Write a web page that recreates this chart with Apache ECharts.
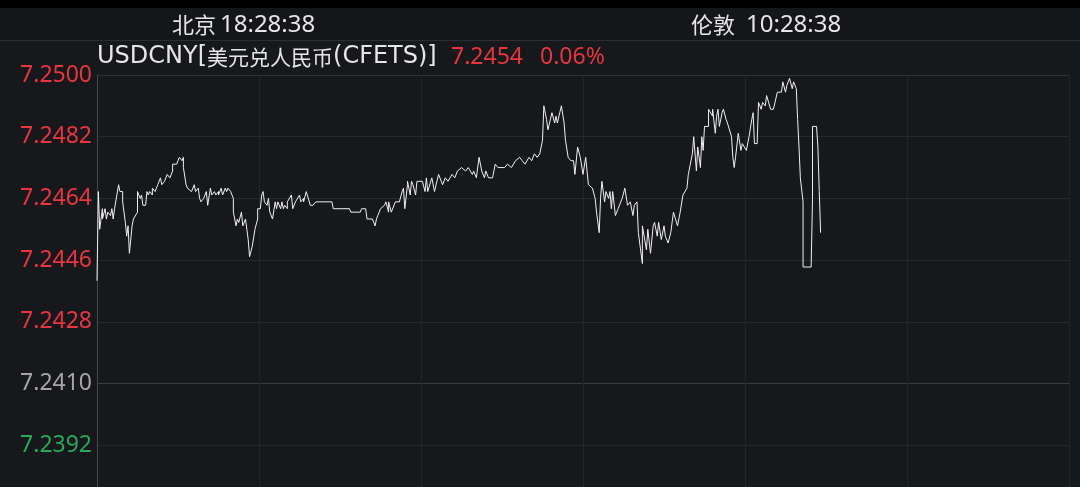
<!DOCTYPE html>
<html>
<head>
<meta charset="utf-8">
<script src="https://cdn.jsdelivr.net/npm/echarts@6/dist/echarts.min.js"></script>
<style>
html,body{margin:0;padding:0;background:#16181c;}
#c{width:1080px;height:487px;}
</style>
</head>
<body>
<div id="c"></div>
<script>
// minutes after 09:30 for each tick of the intraday line
const minutes = [
  0,1,2,4,4,6,7,8,10,11,
  12,13,16,17,19,19,21,22,23,24,
  26,27,30,30,32,33,34,36,37,38,
  39,41,41,43,44,45,47,48,49,50,
  52,53,54,56,56,59,60,61,63,64,
  64,66,67,68,70,71,72,73,75,76,
  77,79,79,81,82,84,85,87,88,90,
  90,92,93,95,96,97,99,101,101,103,
  104,105,107,108,110,111,112,113,115,116,
  117,119,119,121,122,123,
  124,126,127,128,130,132,133,134,136,137,
  138,139,141,141,144,145,147,148,150,151,
  153,153,155,156,158,160,162,174,175,187,
  188,195,196,199,200,204,206,207,208,210,
  211,213,214,216,216,218,219,221,222,224,
  226,227,228,230,230,232,233,234,236,237,
  241,243,244,245,
  248,250,253,256,258,260,263,265,267,270,
  273,275,278,279,281,283,285,287,288,290,
  293,295,297,300,302,304,307,310,311,313,
  315,317,318,320,322,324,326,328,330,331,
  333,334,337,339,340,341,344,346,347,349,
  351,353,354,356,358,360,362,364,
  367,369,370,372,373,374,376,377,379,380,
  381,382,384,386,389,391,393,395,397,398,
  400,401,404,404,407,408,410,412,413,415,
  416,418,420,421,423,425,427,430,432,434,
  437,438,441,442,444,445,447,448,449,450,
  453,453,456,456,458,459,460,461,463,464,
  466,467,470,471,472,473,475,477,478,481,
  483,485,486,487,489,490,492,493,495,496,
  499,501,504,507,508,510,511,513,515,516,
  518,519,520,521,523,523,529,530,530,533,
  534,535,536
];
const prices = [
  7.2440,7.2466,7.2455,7.2461,7.2458,7.2461,7.2458,7.2460,7.2459,7.2461,
  7.2458,7.2461,7.2468,7.2466,7.2466,7.2463,7.2457,7.2453,7.2456,7.2448,
  7.2456,7.2458,7.2460,7.2466,7.2464,7.2465,7.2462,7.2462,7.2466,7.2465,
  7.2466,7.2465,7.2467,7.2466,7.2467,7.2468,7.2470,7.2468,7.2468,7.2469,
  7.2471,7.2471,7.2470,7.2472,7.2474,7.2474,7.2475,7.2476,7.2475,7.2476,
  7.2473,7.2468,7.2467,7.2467,7.2466,7.2466,7.2468,7.2466,7.2467,7.2464,
  7.2463,7.2464,7.2464,7.2466,7.2462,7.2467,7.2465,7.2466,7.2465,7.2466,
  7.2465,7.2467,7.2465,7.2467,7.2466,7.2467,7.2466,7.2464,7.2460,7.2456,
  7.2458,7.2457,7.2460,7.2456,7.2458,7.2455,7.2452,7.2447,7.2450,7.2450,
  7.2455,7.2458,7.2461,7.2461,7.2465,7.2466,
  7.2463,7.2462,7.2464,7.2460,7.2458,7.2463,7.2461,7.2463,7.2461,7.2463,
  7.2461,7.2462,7.2461,7.2463,7.2465,7.2461,7.2463,7.2463,7.2465,7.2463,
  7.2464,7.2463,7.2466,7.2466,7.2462,7.2462,7.2463,7.2463,7.2461,7.2461,
  7.2460,7.2460,7.2461,7.2461,7.2458,7.2458,7.2456,7.2458,7.2459,7.2461,
  7.2461,7.2462,7.2463,7.2460,7.2463,7.2460,7.2460,7.2463,7.2463,7.2463,
  7.2466,7.2467,7.2461,7.2468,7.2469,7.2465,7.2469,7.2468,7.2465,7.2469,
  7.2469,7.2466,7.2470,7.2466,
  7.2470,7.2466,7.2471,7.2468,7.2470,7.2469,7.2471,7.2470,7.2472,7.2473,
  7.2472,7.2473,7.2471,7.2472,7.2470,7.2476,7.2472,7.2470,7.2472,7.2470,
  7.2470,7.2474,7.2473,7.2473,7.2473,7.2474,7.2473,7.2475,7.2475,7.2476,
  7.2475,7.2474,7.2474,7.2476,7.2475,7.2477,7.2476,7.2477,7.2481,7.2491,
  7.2487,7.2484,7.2489,7.2486,7.2488,7.2486,7.2491,7.2486,7.2481,7.2476,
  7.2475,7.2475,7.2471,7.2479,7.2476,7.2471,7.2476,7.2468,
  7.2467,7.2464,7.2460,7.2454,7.2464,7.2469,7.2463,7.2466,7.2464,7.2466,
  7.2461,7.2466,7.2459,7.2461,7.2464,7.2467,7.2462,7.2463,7.2459,7.2462,
  7.2463,7.2454,7.2445,7.2456,7.2449,7.2455,7.2448,7.2456,7.2457,7.2453,
  7.2457,7.2452,7.2456,7.2453,7.2451,7.2454,7.2460,7.2456,7.2460,7.2465,
  7.2467,7.2471,7.2477,7.2482,7.2472,7.2479,7.2473,7.2482,7.2478,7.2485,
  7.2485,7.2490,7.2488,7.2490,7.2483,7.2488,7.2490,7.2485,7.2489,7.2490,
  7.2487,7.2486,7.2482,7.2476,7.2473,7.2476,7.2483,7.2478,7.2480,7.2478,
  7.2482,7.2487,7.2489,7.2480,7.2480,7.2492,7.2490,7.2492,7.2491,7.2494,
  7.2490,7.2490,7.2495,7.2495,7.2498,7.2495,7.2497,7.2499,7.2496,7.2498,
  7.2496,7.2487,7.2479,7.2470,7.2463,7.2444,7.2444,7.2464,7.2485,7.2485,
  7.2479,7.2466,7.2454
];
const yTicks = [7.2374, 7.2392, 7.2410, 7.2428, 7.2446, 7.2464, 7.2482, 7.2500];
const prevClose = 7.2410;
const lastPrice = '7.2454';
const changePct = '0.06%';
const symbolName = ['USDCNY[', '美元兑人民币', '(CFETS)]'];
const clocks = [['北京', '18:28:38'], ['伦敦', '10:28:38']];
const sessionMinutes = 720;

const toPip = p => Math.round((p - prevClose) * 100000) / 10;
const data = minutes.map((m, i) => [m, toPip(prices[i])]);
const pipStep = toPip(yTicks[1]) - toPip(yTicks[0]);

const RED = '#e8353f', GREEN = '#27a85a', GRAY = '#a6a6a6', WHITE = '#e6e6e6';

const chart = echarts.init(document.getElementById('c'), null, {renderer: 'canvas'});
chart.setOption({
  backgroundColor: '#16181c',
  animation: false,
  grid: {left: 97, right: 11, top: 75, bottom: -20, containLabel: false, outerBoundsMode: 'none'},
  xAxis: {
    type: 'value', min: 0, max: sessionMinutes, interval: 120,
    axisLine: {show: false}, axisTick: {show: false}, axisLabel: {show: false},
    splitLine: {show: true, lineStyle: {color: '#212429', width: 1}}
  },
  yAxis: {
    type: 'value',
    min: toPip(yTicks[0]), max: toPip(yTicks[yTicks.length - 1]), interval: pipStep,
    axisLine: {show: true, lineStyle: {color: '#45484d', width: 1}},
    axisTick: {show: false},
    axisLabel: {
      margin: 5, fontSize: 23, fontFamily: 'Noto Sans',
      color: v => (Math.abs(v) < 0.01 ? GRAY : (v > 0 ? RED : GREEN)),
      formatter: (v, i) => (i === 0 ? '' : (prevClose + v / 10000).toFixed(4))
    },
    splitLine: {show: true, lineStyle: {width: 1, color: ['#222529', '#24272c', '#3a3d42', '#26292e', '#24272c', '#272a2f', '#24272c', '#2e3136']}}
  },
  graphic: [
    {type: 'rect', shape: {x: 0, y: 0, width: 1080, height: 8}, style: {fill: '#000000'}, z: 10},
    {type: 'rect', shape: {x: 0, y: 8, width: 1080, height: 32}, style: {fill: '#14161a'}, z: 10},
    {type: 'line', shape: {x1: 0, y1: 40.5, x2: 1080, y2: 40.5}, style: {stroke: '#2b2e33', lineWidth: 1}, z: 10},
    {type: 'text', x: 172, y: 25, z: 11, style: {text: clocks[0][0], fill: WHITE, fontSize: 22, fontFamily: 'Noto Sans CJK SC', verticalAlign: 'middle', align: 'left'}},
    {type: 'text', x: 220, y: 25, z: 11, style: {text: clocks[0][1], fill: WHITE, fontSize: 24, fontFamily: 'Noto Sans', verticalAlign: 'middle', align: 'left'}},
    {type: 'text', x: 691, y: 25, z: 11, style: {text: clocks[1][0], fill: WHITE, fontSize: 22, fontFamily: 'Noto Sans CJK SC', verticalAlign: 'middle', align: 'left'}},
    {type: 'text', x: 746, y: 25, z: 11, style: {text: clocks[1][1], fill: WHITE, fontSize: 24, fontFamily: 'Noto Sans', verticalAlign: 'middle', align: 'left'}},
    {type: 'text', x: 97, y: 57, z: 11, style: {
      text: '{w|' + symbolName[0] + '}{c|' + symbolName[1] + '}{w|' + symbolName[2] + '}',
      verticalAlign: 'middle', align: 'left',
      rich: {
        w: {fill: WHITE, fontSize: 24, fontFamily: 'DejaVu Sans'},
        c: {fill: WHITE, fontSize: 21, fontFamily: 'Noto Sans CJK SC'}
      }
    }},
    {type: 'text', x: 451, y: 57, z: 11, style: {text: lastPrice, fill: RED, fontSize: 23, fontFamily: 'Noto Sans', verticalAlign: 'middle', align: 'left'}},
    {type: 'text', x: 540, y: 57, z: 11, style: {text: changePct, fill: RED, fontSize: 23, fontFamily: 'Noto Sans', verticalAlign: 'middle', align: 'left'}}
  ],
  series: [{
    type: 'line',
    data: data,
    showSymbol: false,
    symbol: 'none',
    lineStyle: {color: '#f0f0f0', width: 1},
    emphasis: {disabled: true},
    clip: true
  }]
});
</script>
</body>
</html>
